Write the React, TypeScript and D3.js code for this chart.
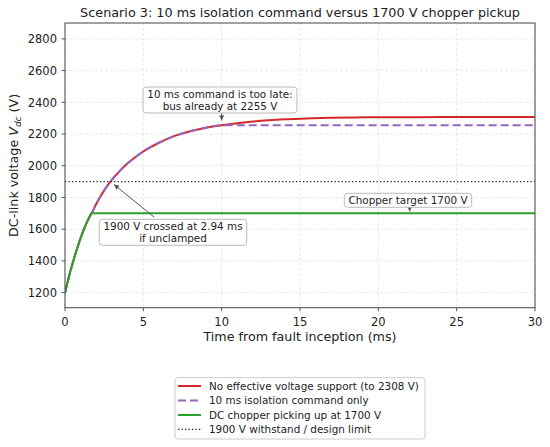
import React from "react";
import * as d3 from "d3";

// ---- data ----
const times = [0, 0.25, 0.5, 0.75, 1, 1.25, 1.5, 1.7, 2, 2.5, 3, 3.5, 4, 4.5, 5, 6, 7, 8, 9, 10, 11, 12, 13, 14, 15, 17, 19, 21, 24, 27, 30];
const unsupportedV = [1200, 1300, 1390, 1470, 1545, 1610, 1665, 1700, 1760, 1845, 1912, 1968, 2015, 2055, 2090, 2145, 2188, 2218, 2240, 2255, 2268, 2279, 2287, 2293, 2297, 2302, 2305, 2306, 2307, 2308, 2308];

const isolationTimes = [0, 0.25, 0.5, 0.75, 1, 1.25, 1.5, 1.7, 2, 2.5, 3, 3.5, 4, 4.5, 5, 6, 7, 8, 9, 10, 30];
const isolationV = [1200, 1300, 1390, 1470, 1545, 1610, 1665, 1700, 1760, 1845, 1912, 1968, 2015, 2055, 2090, 2145, 2188, 2218, 2240, 2255, 2255];

const chopperTimes = [0, 0.25, 0.5, 0.75, 1, 1.25, 1.5, 1.7, 30];
const chopperV = [1200, 1300, 1390, 1470, 1545, 1610, 1665, 1700, 1700];

const limitV = 1900;
const xTicks = [0, 5, 10, 15, 20, 25, 30];
const yTicks = [1200, 1400, 1600, 1800, 2000, 2200, 2400, 2600, 2800];

const legendLabels = [
  "No effective voltage support (to 2308 V)",
  "10 ms isolation command only",
  "DC chopper picking up at 1700 V",
  "1900 V withstand / design limit",
];

const FONT = "DejaVu Sans, Verdana, sans-serif";

export default function App() {
  const W = 550, H = 447;
  const left = 65, right = 535, top = 23, bottom = 307.7;
  const x = d3.scaleLinear().domain([0, 30]).range([left, right]);
  const y = d3.scaleLinear().domain([1105, 2900]).range([bottom, top]);
  const line = (ts: number[], vs: number[]) =>
    d3.line<number>().x((_, i) => x(ts[i])).y((v) => y(v)).curve(d3.curveMonotoneX)(vs) || "";

  const red = "#d62728", purple = "#9467bd", green = "#2ca02c";
  const arrowCol = "#555";
  const dash = "8,4";

  const annoBox = (cx: number, cy: number, w: number, h: number) => (
    <rect x={cx - w / 2} y={cy - h / 2} width={w} height={h} rx={3} fill="white" fillOpacity={0.9} stroke="#bbb" strokeWidth={1} />
  );

  const legendRowY = [386, 400.5, 415, 429.3];

  return (
    <svg width={W} height={H} style={{ position: "absolute", left: 0, top: 0, background: "white" }} fontFamily={FONT}>
      <defs>
        <clipPath id="plotclip">
          <rect x={left} y={top} width={right - left} height={bottom - top} />
        </clipPath>
        <marker id="ah" viewBox="0 0 10 10" refX="10" refY="5" markerWidth="7" markerHeight="5" markerUnits="userSpaceOnUse" orient="auto">
          <path d="M0,0 L10,5 L0,10 z" fill={arrowCol} />
        </marker>
      </defs>
      <rect x={0} y={0} width={W} height={H} fill="white" />
      {/* grid */}
      <g stroke="#b0b0b0" strokeOpacity={0.35} strokeWidth={0.8} strokeDasharray="3,2">
        {xTicks.map((t) => (
          <line key={"gx" + t} x1={x(t)} x2={x(t)} y1={top} y2={bottom} />
        ))}
        {yTicks.map((t) => (
          <line key={"gy" + t} x1={left} x2={right} y1={y(t)} y2={y(t)} />
        ))}
      </g>
      {/* series */}
      <g clipPath="url(#plotclip)" fill="none">
        <path d={line(times, unsupportedV)} stroke={red} strokeWidth={2} />
        <path d={line(isolationTimes, isolationV)} stroke={purple} strokeWidth={2} strokeDasharray={dash} />
        <path d={line(chopperTimes, chopperV)} stroke={green} strokeWidth={2} />
        <line x1={left} x2={right} y1={y(limitV)} y2={y(limitV)} stroke="#222" strokeWidth={1.3} strokeDasharray="1.3,2.2" />
      </g>
      {/* spines */}
      <rect x={left} y={top} width={right - left} height={bottom - top} fill="none" stroke="#444" strokeWidth={1} />
      {/* ticks */}
      <g stroke="#444" strokeWidth={0.9}>
        {xTicks.map((t) => (
          <line key={"tx" + t} x1={x(t)} x2={x(t)} y1={bottom} y2={bottom + 3.5} />
        ))}
        {yTicks.map((t) => (
          <line key={"ty" + t} x1={left - 3.5} x2={left} y1={y(t)} y2={y(t)} />
        ))}
      </g>
      <g fontSize={11.5} fill="#222">
        {xTicks.map((t) => (
          <text key={"lx" + t} x={x(t)} y={326} textAnchor="middle">{t}</text>
        ))}
        {yTicks.map((t) => (
          <text key={"ly" + t} x={57} y={y(t) + 4.2} textAnchor="end">{t}</text>
        ))}
      </g>
      {/* axis labels */}
      <text x={(left + right) / 2} y={341} textAnchor="middle" fontSize={12.7} fill="#222">Time from fault inception (ms)</text>
      <text transform={`translate(18,${(top + bottom) / 2}) rotate(-90)`} textAnchor="middle" fontSize={12.7} fill="#222">
        DC-link voltage <tspan fontStyle="italic">V</tspan><tspan fontStyle="italic" fontSize={9} dy={3}>dc</tspan><tspan dy={-3}> (V)</tspan>
      </text>
      {/* title */}
      <text x={(left + right) / 2} y={17} textAnchor="middle" fontSize={12.8} fill="#222">
        Scenario 3: 10 ms isolation command versus 1700 V chopper pickup
      </text>

      {/* annotation 1 */}
      <line x1={x(10)} y1={113} x2={x(10)} y2={120.5} stroke={arrowCol} strokeWidth={1} markerEnd="url(#ah)" />
      {annoBox(220, 100, 154, 26)}
      <g fontSize={10.4} fill="#222" textAnchor="middle">
        <text x={220} y={97.5}>10 ms command is too late:</text>
        <text x={220} y={109.5}>bus already at 2255 V</text>
      </g>

      {/* annotation 2 */}
      <line x1={154} y1={217} x2={x(2.94) + 3} y2={y(limitV) + 3} stroke={arrowCol} strokeWidth={1} markerEnd="url(#ah)" />
      {annoBox(173, 232.3, 147.4, 26)}
      <g fontSize={10.4} fill="#222" textAnchor="middle">
        <text x={173} y={229.5}>1900 V crossed at 2.94 ms</text>
        <text x={173} y={241.5}>if unclamped</text>
      </g>

      {/* annotation 3 */}
      <line x1={x(22)} y1={207} x2={x(22)} y2={211.5} stroke={arrowCol} strokeWidth={1} markerEnd="url(#ah)" />
      {annoBox(408, 200.3, 127.4, 14)}
      <text x={408} y={204} fontSize={10.4} fill="#222" textAnchor="middle">Chopper target 1700 V</text>

      {/* legend */}
      <rect x={175} y={377.7} width={250} height={61.3} rx={3} fill="white" stroke="#ccc" strokeWidth={1} />
      <g strokeWidth={2}>
        <line x1={178} x2={201} y1={legendRowY[0]} y2={legendRowY[0]} stroke={red} />
        <line x1={178} x2={201} y1={legendRowY[1]} y2={legendRowY[1]} stroke={purple} strokeDasharray={dash} />
        <line x1={178} x2={201} y1={legendRowY[2]} y2={legendRowY[2]} stroke={green} />
        <line x1={178} x2={201} y1={legendRowY[3]} y2={legendRowY[3]} stroke="#222" strokeWidth={1.3} strokeDasharray="1.3,2.2" />
      </g>
      <g fontSize={10.4} fill="#222">
        {legendLabels.map((l, i) => (
          <text key={l} x={209} y={legendRowY[i] + 3.8}>{l}</text>
        ))}
      </g>
    </svg>
  );
}
